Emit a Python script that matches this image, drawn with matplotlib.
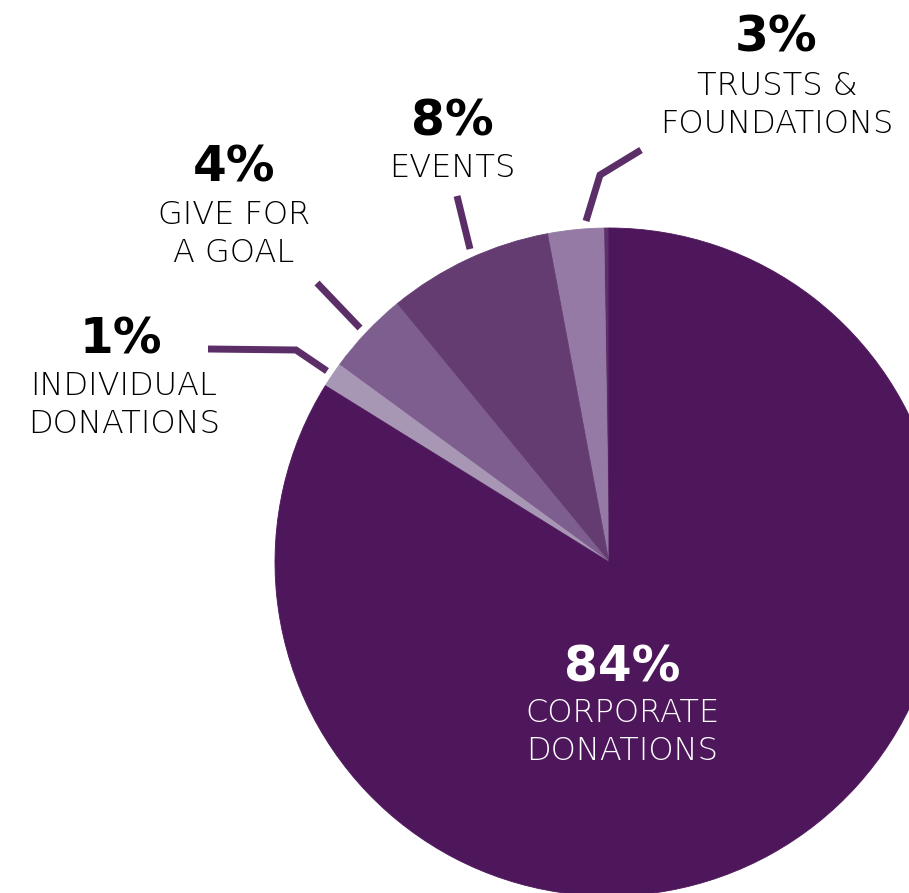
import matplotlib.pyplot as plt

# slice data, counter-clockwise from 12 o'clock
labels = ['', 'TRUSTS &\nFOUNDATIONS', 'EVENTS', 'GIVE FOR\nA GOAL', 'INDIVIDUAL\nDONATIONS', 'CORPORATE\nDONATIONS']
values = [0.25, 2.7, 8.0, 4.0, 1.2, 83.85]
pct_text = ['', '3%', '8%', '4%', '1%', '84%']
colors = ['#5d3069', '#957aa5', '#643c72', '#7d5e8e', '#a896b5', '#4e175b']

W, H = 909, 893
fig = plt.figure(figsize=(W / 100, H / 100), dpi=100)
ax = fig.add_axes([0, 0, 1, 1])

wedges, _ = ax.pie(values, colors=colors, startangle=90, counterclock=True,
                   center=(609, H - 562), radius=334, frame=True)
# hide the seams between slices
for w, c in zip(wedges, colors):
    w.set_edgecolor(c)
    w.set_linewidth(0.6)
ax.set_xlim(0, W)
ax.set_ylim(0, H)
ax.set_aspect('equal')
ax.axis('off')

# leader lines (image pixel coords)
line_col = '#5b2e68'
leaders = [
    [(586, 221), (600, 175), (641, 150)],
    [(470, 249), (457, 196)],
    [(360, 328), (317, 283)],
    [(327, 371), (296, 350), (208, 349)],
]
for pts in leaders:
    xs = [p[0] for p in pts]
    ys = [H - p[1] for p in pts]
    ax.plot(xs, ys, color=line_col, lw=5, solid_capstyle='butt', solid_joinstyle='miter')

# text positions (image pixel coords): percent, label
pct_pos = [None, (776, 38), (452, 122), (234, 168), (121, 340), (622, 667)]
lab_pos = [None, (777, 105), (452, 168), (234, 234), (124, 405), (622, 732)]

for i in range(1, len(values)):
    c = 'white' if i == 5 else 'black'
    px, py = pct_pos[i]
    ax.text(px, H - py, pct_text[i], ha='center', va='center', fontsize=35,
            fontweight='bold', family='DejaVu Sans', color=c)
    lx, ly = lab_pos[i]
    ax.text(lx, H - ly, labels[i], ha='center', va='center', fontsize=23,
            fontweight='light', family='DejaVu Sans', color=c, linespacing=1.31)

fig.savefig('out.png', dpi=100)
